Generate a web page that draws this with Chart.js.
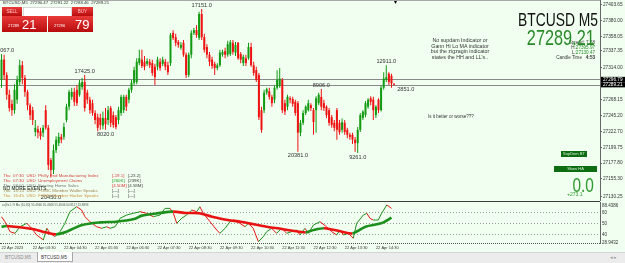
<!DOCTYPE html>
<html lang="en">
<head>
<meta charset="UTF-8">
<title>BTCUSD M5</title>
<script src="https://cdn.jsdelivr.net/npm/chart.js"></script>
<style>
  body { margin:0; width:625px; height:263px; overflow:hidden; background:#f0fff0; position:relative;
         font-family:"Liberation Sans", Arial, sans-serif; }
  canvas { position:absolute; left:0; }
  .t { position:absolute; white-space:pre; line-height:1; }
  .red { background:linear-gradient(#ea3a3a,#b80c0c); }
  .btn { position:absolute; background:#0e6c12; color:#d8f0d8; font-size:4px; line-height:6px; text-align:center; }
  .news { position:absolute; left:3px; font-size:4.4px; line-height:5px; white-space:pre; }
</style>
</head>
<body>
<canvas id="priceChart" width="625" height="201" style="top:0"></canvas>
<canvas id="indChart" width="625" height="51" style="top:201px"></canvas>

<!-- panel borders -->
<div style="position:absolute;left:0;top:0;width:600px;height:1px;background:#a8a8a8"></div>
<div style="position:absolute;left:0;top:201px;width:600px;height:1px;background:#3c3c3c"></div>
<div style="position:absolute;left:0;top:243px;width:600px;border-top:1px dotted #555"></div>
<div class="t" style="left:394px;top:-1px;font-size:6px">▾</div>

<!-- header + one click trading -->
<div class="t" style="left:3px;top:1px;font-size:4.3px;color:#333">BTCUSD,M5  27290.47  27291.22  27288.46  27289.21</div>
<div class="t red" style="left:2px;top:7px;width:20px;height:9px;font-size:4.5px;line-height:9px;text-align:center;color:#ffc4c4">SELL</div>
<div class="t" style="left:23px;top:7px;width:47px;height:8px;background:#fff;border:1px solid #d8d8d8;font-size:4.5px;line-height:8px;color:#333">
<span style="position:absolute;left:4px">▾</span><span style="position:absolute;left:30px">0.01</span><span style="position:absolute;left:42px">▴</span></div>
<div class="t red" style="left:72px;top:7px;width:21px;height:9px;font-size:4.5px;line-height:9px;text-align:center;color:#ffc4c4">BUY</div>
<div class="t red" style="left:2px;top:16px;width:45px;height:16px;color:#fff">
  <span style="position:absolute;left:6px;top:8px;font-size:4px">27289</span>
  <span style="position:absolute;left:20px;top:2px;font-size:13px">21</span></div>
<div class="t red" style="left:48px;top:16px;width:45px;height:16px;color:#fff">
  <span style="position:absolute;left:6px;top:8px;font-size:4px">27296</span>
  <span style="position:absolute;left:27px;top:2px;font-size:13px">79</span></div>

<!-- right side info -->
<div class="t" style="right:27px;top:10.5px;font-size:18px;color:#111;transform:scaleX(0.77);transform-origin:right">BTCUSD M5</div>
<div class="t" style="right:30px;top:41px;font-size:4.6px;color:#444">Spread: 7.58</div>
<div class="t" style="right:30px;top:27px;font-size:22px;color:#2a8a2a;transform:scaleX(0.74);transform-origin:right">27289.21</div>
<div class="t" style="right:30px;top:46px;font-size:4.6px;color:#333">H:<span style="color:#2a8a2a">27395.97</span></div>
<div class="t" style="right:30px;top:51px;font-size:4.6px;color:#333">L:<span style="color:#2a8a2a">27130.47</span></div>
<div class="t" style="right:30px;top:56px;font-size:4.6px;color:#333">Candle Time   <b>4:53</b></div>

<div class="t" style="left:424px;top:38px;width:72px;font-size:5.3px;line-height:5.5px;text-align:center;color:#333">No supdam Indicator or
Gann Hi Lo MA indicator
but the zigzagin indicator
states the HH and LL's..</div>
<div class="t" style="left:428px;top:115px;font-size:4.5px;color:#333">Is it better or worse???</div>

<div class="btn" style="left:561px;top:151px;width:26px;height:6px">SupDem BT</div>
<div class="btn" style="left:554px;top:166px;width:43px;height:6px">Show HA</div>
<div class="t" style="right:31px;top:174.5px;font-size:20px;color:#2f9a2f;transform:scaleX(0.77);transform-origin:right">0.0</div>
<div class="t" style="left:567px;top:192px;font-size:5px;color:#2f9a2f">+273.1</div>

<!-- news -->
<div class="news" style="top:172.5px;color:#d84040">Thu  07:30  USD  Philly Fed Manufacturing Index</div>
<div class="news" style="top:177.5px;color:#d84040">Thu  07:30  USD  Unemployment Claims</div>
<div class="news" style="top:182.5px;color:#777">Thu  08:00  USD  Existing Home Sales</div>
<div class="news" style="top:187.5px;color:#a08050">Thu  15:15  USD  FOMC Member Waller Speaks</div>
<div class="news" style="top:192.5px;color:#d09040">Thu  16:45  USD  FOMC Member Harker Speaks</div>
<div class="news" style="left:112px;top:172.5px;color:#d84040">[-19.1]</div>
<div class="news" style="left:128px;top:172.5px;color:#444">[-23.2]</div>
<div class="news" style="left:112px;top:177.5px;color:#2a9a2a">[260K]</div>
<div class="news" style="left:128px;top:177.5px;color:#444">[239K]</div>
<div class="news" style="left:112px;top:182.5px;color:#d84040">[4.50M]</div>
<div class="news" style="left:128px;top:182.5px;color:#444">[4.58M]</div>
<div class="news" style="left:112px;top:187.5px;color:#444">[---]</div>
<div class="news" style="left:128px;top:187.5px;color:#444">[---]</div>
<div class="news" style="left:112px;top:192.5px;color:#444">[---]</div>
<div class="news" style="left:128px;top:192.5px;color:#444">[---]</div>
<div class="t" style="left:3px;top:185px;font-size:6px;color:#111;transform:scaleX(0.8);transform-origin:left">NO MORE EVENTS</div>

<div class="t" style="left:2px;top:203.5px;font-size:3px;color:#555">ss(9x1 / 9 Ma (10,80) 55.4946 55.4946 55.4946 60.8117 61.8893</div>

<!-- tabs -->
<div style="position:absolute;left:0;top:252px;width:625px;height:11px;background:#ececec;border-top:1px solid #d4d4d4"></div>
<div class="t" style="left:5px;top:256px;font-size:4.5px;color:#8a8a8a">BTCUSD,M5</div>
<div style="position:absolute;left:37px;top:252px;width:34px;height:9px;background:#fff;border:1px solid #a8a8a8;border-top:none"></div>
<div class="t" style="left:41px;top:256px;font-size:4.5px;color:#333">BTCUSD,M5</div>
<div class="t" style="left:610px;top:255px;font-size:5px;color:#999">◂ ▸</div>

<script>
  Chart.defaults.font.family = '"Liberation Sans", Arial, sans-serif';
  Chart.defaults.color = '#333';

  // candles, oldest first (M5)
  const opens = [27296,27325,27303,27275,27262,27253,27268,27293,27317,27299,
    27279,27260,27253,27222,27226,27223,27221,27253,27228,27182,
    27168,27196,27206,27215,27215,27239,27258,27272,27279,27282,
    27275,27286,27293,27278,27268,27263,27249,27243,27242,27231,
    27242,27239,27256,27246,27243,27239,27249,27253,27272,27268,
    27282,27292,27293,27320,27325,27322,27319,27322,27320,27315,
    27315,27322,27319,27322,27317,27320,27363,27357,27350,27342,
    27349,27332,27303,27332,27363,27367,27356,27390,27357,27343,
    27332,27325,27319,27313,27317,27332,27337,27332,27333,27349,
    27335,27349,27333,27320,27327,27327,27343,27317,27310,27303,
    27253,27253,27278,27280,27272,27268,27285,27288,27296,27263,
    27258,27270,27269,27265,27263,27221,27235,27249,27253,27260,
    27253,27253,27263,27272,27263,27258,27253,27243,27235,27253,
    27235,27225,27235,27225,27218,27218,27211,27206,27225,27242,
    27246,27258,27270,27268,27246,27268,27253,27285,27296,27305,
    27302,27290.47];
  const highs = [27333,27332,27307,27282,27268,27290,27302,27325,27323,27303,
    27282,27263,27258,27239,27231,27228,27232,27260,27232,27185,
    27204,27216,27221,27219,27235,27262,27282,27285,27285,27289,
    27296,27299,27303,27282,27272,27268,27253,27248,27248,27251,
    27256,27259,27259,27251,27246,27258,27275,27275,27275,27285,
    27296,27315,27327,27339,27339,27330,27327,27326,27325,27319,
    27329,27327,27329,27326,27322,27363,27367,27362,27353,27350,
    27353,27335,27335,27367,27370,27374,27393,27397,27362,27347,
    27336,27329,27322,27320,27339,27339,27342,27352,27353,27353,
    27350,27350,27336,27332,27332,27349,27349,27322,27315,27306,
    27258,27282,27285,27285,27275,27288,27310,27313,27299,27268,
    27275,27273,27272,27268,27266,27239,27253,27260,27268,27263,
    27256,27273,27278,27283,27268,27260,27256,27246,27239,27256,
    27239,27241,27239,27228,27221,27221,27215,27229,27249,27253,
    27266,27270,27273,27272,27260,27270,27288,27307,27317,27307,
    27305,27291.22];
  const lows = [27285,27296,27268,27251,27245,27248,27262,27288,27290,27272,
    27253,27239,27232,27216,27213,27211,27215,27225,27168,27157,
    27162,27192,27202,27206,27211,27236,27253,27268,27259,27259,
    27272,27282,27251,27262,27248,27245,27233,27223,27225,27226,
    27225,27232,27229,27228,27226,27233,27245,27249,27252,27263,
    27278,27288,27290,27317,27313,27310,27316,27313,27302,27289,
    27310,27309,27316,27310,27303,27316,27353,27344,27342,27339,
    27329,27299,27300,27327,27360,27356,27353,27353,27335,27327,
    27316,27312,27303,27310,27315,27329,27327,27329,27330,27332,
    27330,27325,27320,27316,27316,27325,27315,27302,27293,27239,
    27221,27249,27275,27268,27258,27263,27282,27285,27249,27246,
    27253,27263,27258,27245,27194,27216,27232,27246,27251,27252,
    27218,27221,27260,27253,27252,27242,27231,27228,27223,27211,
    27218,27221,27218,27213,27211,27205,27194,27192,27222,27239,
    27243,27255,27260,27239,27242,27249,27251,27282,27293,27289,
    27285,27288.46];
  const closes = [27325,27303,27275,27256,27253,27282,27296,27317,27299,27279,
    27260,27246,27239,27228,27221,27216,27228,27228,27175,27168,
    27196,27211,27215,27211,27229,27258,27279,27279,27265,27263,
    27292,27293,27256,27268,27253,27249,27239,27228,27232,27242,
    27233,27253,27235,27232,27229,27253,27272,27272,27258,27282,
    27292,27310,27322,27327,27316,27315,27323,27317,27306,27300,
    27325,27313,27325,27315,27307,27360,27356,27349,27346,27346,
    27332,27303,27332,27363,27367,27360,27390,27357,27339,27332,
    27322,27316,27313,27317,27335,27336,27332,27347,27350,27336,
    27346,27327,27325,27329,27320,27343,27317,27306,27296,27243,
    27225,27278,27283,27272,27263,27285,27296,27298,27253,27251,
    27272,27268,27262,27249,27221,27235,27249,27258,27263,27256,
    27236,27270,27275,27258,27256,27246,27235,27232,27228,27225,
    27222,27236,27222,27218,27215,27211,27206,27225,27246,27251,
    27263,27268,27265,27253,27258,27253,27285,27298,27300,27293,
    27291,27289.21];

  const askPrice = 27296.79;
  const bidPrice = 27289.21;

  // zigzag swing labels: bar index, price the label sits on, text, high/low side
  const zzIdx   = [1, 19, 32, 40, 77, 114, 123, 137, 148, 155.5];
  const zzPrice = [27333, 27135, 27303, 27225, 27397, 27194, 27283, 27192, 27317, 27289.21];
  const zzText  = ['18067.0', '20450.0', '17425.0', '8020.0', '17151.0', '20381.0', '8906.0', '9261.0', '12911.0', '2851.0'];
  const zzSide  = ['h', 'l', 'h', 'l', 'h', 'l', 'h', 'l', 'h', 'l'];

  const priceTicks = [27403.65, 27380.00, 27358.05, 27337.35, 27314.00, 27268.15, 27245.20,
                      27222.70, 27199.75, 27177.80, 27155.30, 27130.25];
  const priceTickLabels = ['27403.65', '27380.00', '27358.05', '27337.35', '27314.00', '27268.15', '27245.20',
                           '27222.70', '27199.75', '27177.80', '27155.30', '27130.25'];

  const timeTickIdx = [0, 12, 24, 36, 48, 60, 72, 84, 96, 108, 120, 132, 144];
  const timeLabels = ['22 Apr 2023', '22 Apr 03:30', '22 Apr 04:30', '22 Apr 05:30', '22 Apr 06:30',
    '22 Apr 07:30', '22 Apr 08:30', '22 Apr 09:30', '22 Apr 10:30', '22 Apr 11:30',
    '22 Apr 12:30', '22 Apr 13:30', '22 Apr 14:30'];

  // oscillator sub window: fast line and its smoothed signal
  const fastX = [0,1.3,3.3,5.2,7.1,9.7,11.6,13.5,16.1,17.4,18.7,20.6,22.5,24.4,26.3,28.9,30.8,32.1,34,36.6,
    38.5,40.5,41.7,43.7,45.6,48.2,50.7,53.3,55.8,58.4,61,62.9,64.8,66.1,67.4,69.3,71.2,73.2,75.1,76.3,
    77.6,80.2,82.8,84,86,87.9,89.2,91.7,93.7,94.9,96.8,98.8,100.7,102,103.9,105.8,107.8,109.7,111.6,113.5,
    114.8,116.7,118,120,122.5,125,127,128.9,130.2,131.5,133.4,135.3,136.6,139.2,140.5,141.7,143,144.9,146.2,148.2,150];
  const fastY = [56.6,52.1,43.0,41.5,47.5,50.6,46.1,40.0,35.5,46.1,41.5,38.5,43.0,50.6,61.2,65.7,62.7,56.6,52.1,47.5,
    46.1,47.5,46.1,47.5,55.2,58.2,59.7,61.2,59.7,56.6,58.2,64.2,64.2,59.7,50.6,55.2,58.2,62.7,61.2,65.7,
    59.7,52.1,44.5,41.5,46.1,52.1,53.6,50.6,47.5,50.6,46.1,33.9,38.5,43.0,46.1,41.5,46.1,41.5,43.0,44.5,
    40.0,46.1,41.5,49.1,52.1,47.5,43.0,40.0,44.5,40.0,41.5,37.0,50.6,58.2,59.7,55.2,53.6,53.6,59.7,67.3,64.2];
  const slowX = [0,2,12,17,21,25,31,38,44,51,54,60,66,71,76,81,87,92,97,102,106,112,117,120,124,128,131,135,140,146,150];
  const slowY = [47.5,48.2,45.5,42.4,40.6,43.0,49.1,51.5,52.1,54.5,57.6,59.7,61.2,60.0,59.7,56.6,53.6,52.1,49.7,47.5,
    46.1,43.9,42.4,44.5,46.1,44.5,43.0,41.5,47.5,50.6,55.8];
  const oscTicks = [67, 60, 50, 40, 33];
  const oscTickLabels = ['88.4386', '60', '50', '40', '28.9432'];

  const bull = '#139a13', bear = '#ee1212';
  const up = '#1d8f1d', down = '#e81212';

  const candleColors = closes.map((c, i) => c >= opens[i] ? bull : bear);
  const bodies = opens.map((o, i) => ({ x: i, y: [o, closes[i]] }));
  const wicks = highs.map((h, i) => ({ x: i, y: [lows[i], h] }));

  const xMin = -0.58, xMax = 230.2;

  const mtOverlay = {
    id: 'mtOverlay',
    beforeDatasetsDraw(chart) {
      const { ctx, chartArea: a, scales: { y } } = chart;
      ctx.save();
      ctx.strokeStyle = '#8a8a8a';
      ctx.lineWidth = 1;
      [askPrice, bidPrice].forEach(p => {
        const py = Math.round(y.getPixelForValue(p)) + 0.5;
        ctx.beginPath(); ctx.moveTo(a.left, py); ctx.lineTo(a.right, py); ctx.stroke();
      });
      ctx.restore();
    },
    afterDatasetsDraw(chart) {
      const { ctx, scales: { x, y } } = chart;
      ctx.save();
      ctx.font = '5.6px "Liberation Sans", Arial, sans-serif';
      ctx.fillStyle = '#333';
      ctx.textAlign = 'center';
      zzIdx.forEach((ix, k) => {
        const px = x.getPixelForValue(ix), py = y.getPixelForValue(zzPrice[k]);
        if (zzSide[k] === 'h') { ctx.textBaseline = 'bottom'; ctx.fillText(zzText[k], px, py - 1); }
        else { ctx.textBaseline = 'top'; ctx.fillText(zzText[k], px, py + 1.5); }
      });
      ctx.restore();
    },
    afterDraw(chart) {
      const { ctx, chartArea: a, scales: { y } } = chart;
      ctx.save();
      ctx.font = '4.7px "Liberation Sans", Arial, sans-serif';
      ctx.textBaseline = 'middle';
      [askPrice, bidPrice].forEach(p => {
        const py = y.getPixelForValue(p);
        ctx.fillStyle = '#000';
        ctx.fillRect(a.right + 1, py - 2.6, 24, 5.2);
        ctx.fillStyle = '#fff';
        ctx.fillText(p.toFixed(2), a.right + 3, py + 0.3);
      });
      ctx.restore();
    }
  };

  new Chart(document.getElementById('priceChart'), {
    type: 'bar',
    data: {
      datasets: [
        { data: bodies, backgroundColor: candleColors, barThickness: 2, grouped: false, minBarLength: 1, inflateAmount: 0 },
        { data: wicks, backgroundColor: candleColors, barThickness: 1, grouped: false, inflateAmount: 0 }
      ]
    },
    options: {
      responsive: false,
      animation: false,
      events: [],
      layout: { padding: 0 },
      plugins: { legend: { display: false }, tooltip: { enabled: false } },
      scales: {
        x: { type: 'linear', min: xMin, max: xMax, offset: false, display: false },
        y: {
          position: 'right',
          min: 27123.7,
          max: 27409.9,
          afterBuildTicks: s => { s.ticks = priceTicks.map(v => ({ value: v })); },
          afterFit: s => { s.width = 25; s.paddingTop = 0; s.paddingBottom = 0; },
          ticks: { autoSkip: false, padding: 1, font: { size: 4.7 }, color: '#333',
                   callback: (v, i) => priceTickLabels[i] },
          grid: { drawOnChartArea: false, tickLength: 2, color: '#666' },
          border: { display: true, color: '#666' }
        }
      }
    },
    plugins: [mtOverlay]
  });

  new Chart(document.getElementById('indChart'), {
    type: 'line',
    data: {
      datasets: [
        {
          data: slowX.map((x, i) => ({ x, y: slowY[i] })),
          borderWidth: 2.6, pointRadius: 0, tension: 0.3,
          segment: { borderColor: c => c.p1.parsed.y >= c.p0.parsed.y ? up : down }
        },
        {
          data: fastX.map((x, i) => ({ x, y: fastY[i] })),
          borderWidth: 1, pointRadius: 0, tension: 0,
          segment: { borderColor: c => c.p1.parsed.y >= c.p0.parsed.y ? up : down }
        }
      ]
    },
    options: {
      responsive: false,
      animation: false,
      events: [],
      layout: { padding: { top: 1 } },
      plugins: { legend: { display: false }, tooltip: { enabled: false } },
      scales: {
        x: {
          type: 'linear', min: xMin, max: xMax,
          afterBuildTicks: s => { s.ticks = timeTickIdx.map(v => ({ value: v })); },
          afterFit: s => { s.height = 9; s.paddingLeft = 0; s.paddingRight = 0; },
          ticks: { autoSkip: false, maxRotation: 0, align: 'start', padding: 2, font: { size: 4 }, color: '#333',
                   callback: (v, i) => timeLabels[i] },
          grid: { drawOnChartArea: false, drawTicks: false },
          border: { display: false }
        },
        y: {
          position: 'right', min: 32.7, max: 70,
          afterBuildTicks: s => { s.ticks = oscTicks.map(v => ({ value: v })); },
          afterFit: s => { s.width = 25; s.paddingTop = 0; s.paddingBottom = 0; },
          ticks: { autoSkip: false, padding: 2, font: { size: 4.5 }, color: '#333',
                   callback: (v, i) => oscTickLabels[i] },
          grid: { drawTicks: false, color: c => (c.tick && (c.tick.value === 67 || c.tick.value === 33)) ? 'rgba(0,0,0,0)' : '#9a9a9a' },
          border: { display: true, color: '#666', dash: [1, 2] }
        }
      }
    }
  });
</script>
</body>
</html>
